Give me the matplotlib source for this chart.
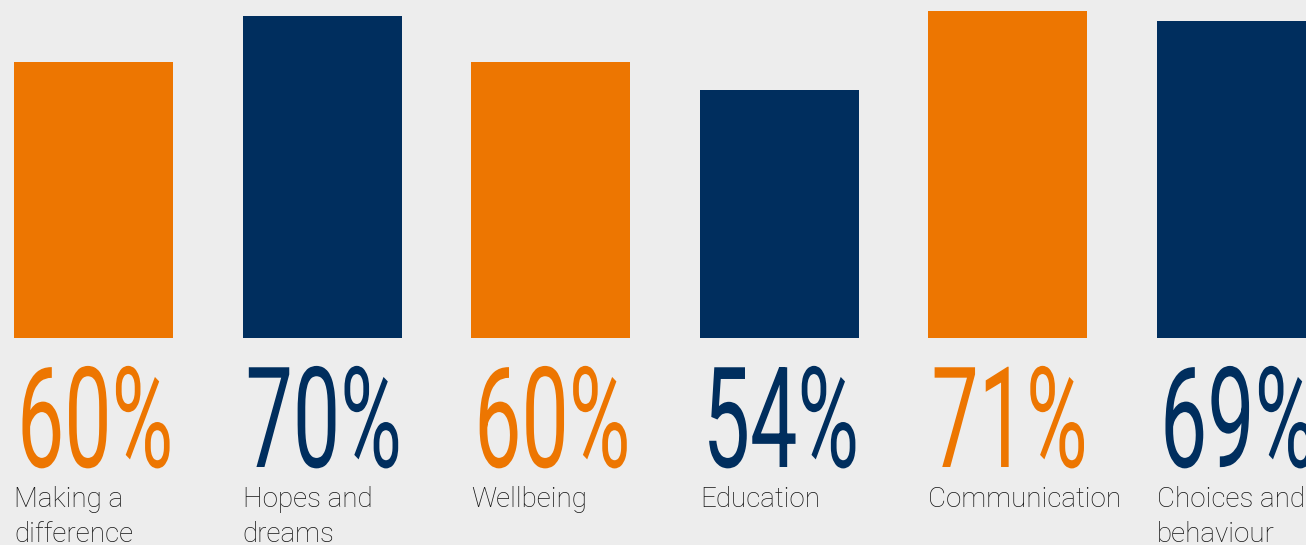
import matplotlib
matplotlib.use('Agg')
from matplotlib import pyplot as plt
from matplotlib.patheffects import AbstractPathEffect
from matplotlib.transforms import Affine2D

categories = ['Making a\ndifference', 'Hopes and\ndreams', 'Wellbeing',
              'Education', 'Communication', 'Choices and\nbehaviour']
values = [60, 70, 60, 54, 71, 69]

orange = '#ED7601'
navy = '#002E5E'
bg = '#EDEDED'
bar_colors = [orange, navy, orange, navy, orange, navy]


# stretches glyphs (tall narrow display font look), text stays text
class Stretch(AbstractPathEffect):
    def __init__(self, sx=1.0, sy=1.0):
        super().__init__()
        self.sx = sx
        self.sy = sy

    def draw_path(self, renderer, gc, tpath, affine, rgbFace=None):
        renderer.draw_path(gc, tpath, Affine2D().scale(self.sx, self.sy) + affine, rgbFace)


step = 228.6   # px between bars
ppu = 4.6      # px per percent

fig = plt.figure(figsize=(13.06, 5.45), dpi=100, facecolor=bg)
ax = fig.add_axes([0, 0, 1, 1])
ax.set_facecolor(bg)

x = list(range(len(values)))
ax.bar(x, values, width=159 / step, align='edge', color=bar_colors, linewidth=0)

for i in x:
    ax.text(i + 3 / step, -129 / ppu, '%d%%' % values[i], color=bar_colors[i],
            fontsize=60.6, family='Roboto', ha='left', va='baseline',
            path_effects=[Stretch(1.0, 1 / 0.6)], clip_on=False)
    for j, line in enumerate(categories[i].split('\n')):
        ax.text(i, -(169 + 35 * j) / ppu, line, color='#141414',
                fontsize=20, family='Roboto', fontweight='light',
                ha='left', va='baseline', clip_on=False)

ax.set_xlim(-14 / step, 1292 / step)
ax.set_ylim(-207 / ppu, 338 / ppu)
ax.axis('off')

plt.savefig('out.png', dpi=100, facecolor=bg)
